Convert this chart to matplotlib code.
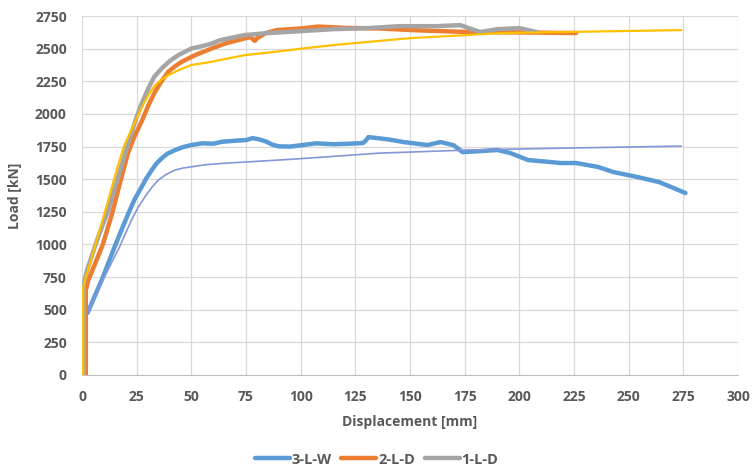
import matplotlib

matplotlib.use("Agg")
import matplotlib.pyplot as plt

# test curves
w3_x = [2.5, 9, 14.3, 17.5, 21.2, 24, 27.3, 29.5, 31.9, 34, 36.4, 39, 42.5, 46, 50, 55,
        60, 64, 70, 75, 78, 81, 84, 87, 90, 95, 100, 107, 115, 122, 128.5, 130, 131, 140,
        147, 158, 164, 170, 174, 182, 190, 196, 204, 212, 219, 226, 236, 243, 254, 264, 276]
w3_y = [475, 728, 957, 1090, 1239, 1345, 1443, 1510, 1570, 1620, 1660, 1695, 1723, 1745,
        1762, 1775, 1772, 1787, 1795, 1800, 1815, 1805, 1790, 1765, 1752, 1750, 1760, 1775,
        1768, 1772, 1777, 1800, 1823, 1805, 1785, 1762, 1785, 1760, 1708, 1715, 1724, 1700,
        1647, 1635, 1624, 1624, 1594, 1555, 1517, 1478, 1394]

d2_x = [1.7, 1.7, 2.9, 6, 9.5, 13.7, 17, 21, 24, 27.3, 30.3, 33.4, 36.5, 39.5, 42.5, 45.6,
        51.7, 59.3, 66, 74.5, 77, 79, 80, 84, 89, 100, 108, 120, 136, 155, 177, 200, 226]
d2_y = [0, 651, 728, 855, 1000, 1235, 1450, 1700, 1830, 1945, 2065, 2171, 2255, 2325, 2365,
        2400, 2451, 2502, 2543, 2579, 2590, 2560, 2580, 2620, 2643, 2655, 2670, 2660, 2655,
        2640, 2628, 2625, 2620]

d1_x = [0.8, 0.8, 2.3, 7, 12, 16, 19.7, 24.2, 27, 30.3, 33, 36.4, 40, 44, 50, 55, 59.3, 63,
        66.9, 74.5, 85, 100, 115, 131, 145, 162, 173, 182, 190, 200, 208]
d1_y = [0, 700, 804, 1040, 1264, 1490, 1700, 1940, 2070, 2196, 2285, 2349, 2405, 2451, 2502,
        2520, 2540, 2565, 2579, 2605, 2620, 2635, 2650, 2658, 2673, 2673, 2681, 2628, 2650,
        2658, 2628]

# model curves (thin, not in legend)
fe_d_x = [0.5, 0.5, 1.4, 5.9, 12, 16, 19, 24.2, 28, 30.5, 33.4, 36.5, 39.5, 44, 50, 59.3,
          65, 74.5, 85, 100, 115, 136, 150, 192, 274]
fe_d_y = [0, 674, 728, 985, 1340, 1580, 1746, 1940, 2075, 2150, 2221, 2265, 2298, 2335,
          2375, 2400, 2420, 2451, 2470, 2500, 2528, 2560, 2581, 2620, 2643]

fe_w_x = [2.5, 9, 13.5, 17.4, 20, 22.7, 25.5, 28.8, 31.8, 34.9, 38.5, 42.5, 46, 50, 56,
          63.9, 75, 95, 115, 136, 150, 177, 223, 274]
fe_w_y = [475, 710, 860, 990, 1090, 1190, 1280, 1366, 1435, 1494, 1537, 1570, 1585, 1595,
          1610, 1621, 1632, 1652, 1675, 1700, 1708, 1724, 1739, 1754]

x_ticks = list(range(0, 301, 25))
y_ticks = list(range(0, 2751, 250))

plt.rcParams["font.family"] = ["Open Sans", "DejaVu Sans"]
txt = "#595959"

fig = plt.figure(figsize=(7.53, 4.74), dpi=100)
ax = fig.add_axes([0.109, 0.209, 0.871, 0.757])

ax.plot(w3_x, w3_y, color="#5B9BD5", lw=3.2, label="3-L-W", solid_capstyle="round",
        solid_joinstyle="round", zorder=3)
ax.plot(d2_x, d2_y, color="#ED7D31", lw=3.2, label="2-L-D", solid_capstyle="round",
        solid_joinstyle="round", zorder=3)
ax.plot(d1_x, d1_y, color="#A5A5A5", lw=3.2, label="1-L-D", solid_capstyle="round",
        solid_joinstyle="round", zorder=3)
ax.plot(fe_d_x, fe_d_y, color="#FFC000", lw=1.6, solid_joinstyle="round", zorder=4)
ax.plot(fe_w_x, fe_w_y, color="#8497D6", lw=1.2, solid_joinstyle="round", zorder=4)

ax.set_xlim(0, 300)
ax.set_ylim(0, 2750)
ax.set_xticks(x_ticks)
ax.set_yticks(y_ticks)
ax.grid(True, color="#D9D9D9", lw=0.9)
ax.set_axisbelow(True)
for side in ["top", "right", "left"]:
    ax.spines[side].set_visible(False)
ax.spines["bottom"].set_color("#BFBFBF")
ax.tick_params(axis="x", length=0, labelsize=10, labelcolor=txt, pad=11)
ax.tick_params(axis="y", length=0, labelsize=10, labelcolor=txt, pad=11)
for lbl in ax.get_xticklabels() + ax.get_yticklabels():
    lbl.set_fontweight("bold")

ax.set_xlabel("Displacement [mm]", fontsize=10, color=txt, fontweight="bold", labelpad=8)
ax.set_ylabel("Load [kN]", fontsize=10, color=txt, fontweight="bold", labelpad=9)

fig.legend(loc="lower center", bbox_to_anchor=(0.5, -0.012), ncol=3, frameon=False,
           prop={"size": 10.5, "weight": "bold"}, handlelength=2.4, columnspacing=0.7,
           handletextpad=0.1, labelcolor=txt)

fig.savefig("out.png", dpi=100, facecolor="white")
